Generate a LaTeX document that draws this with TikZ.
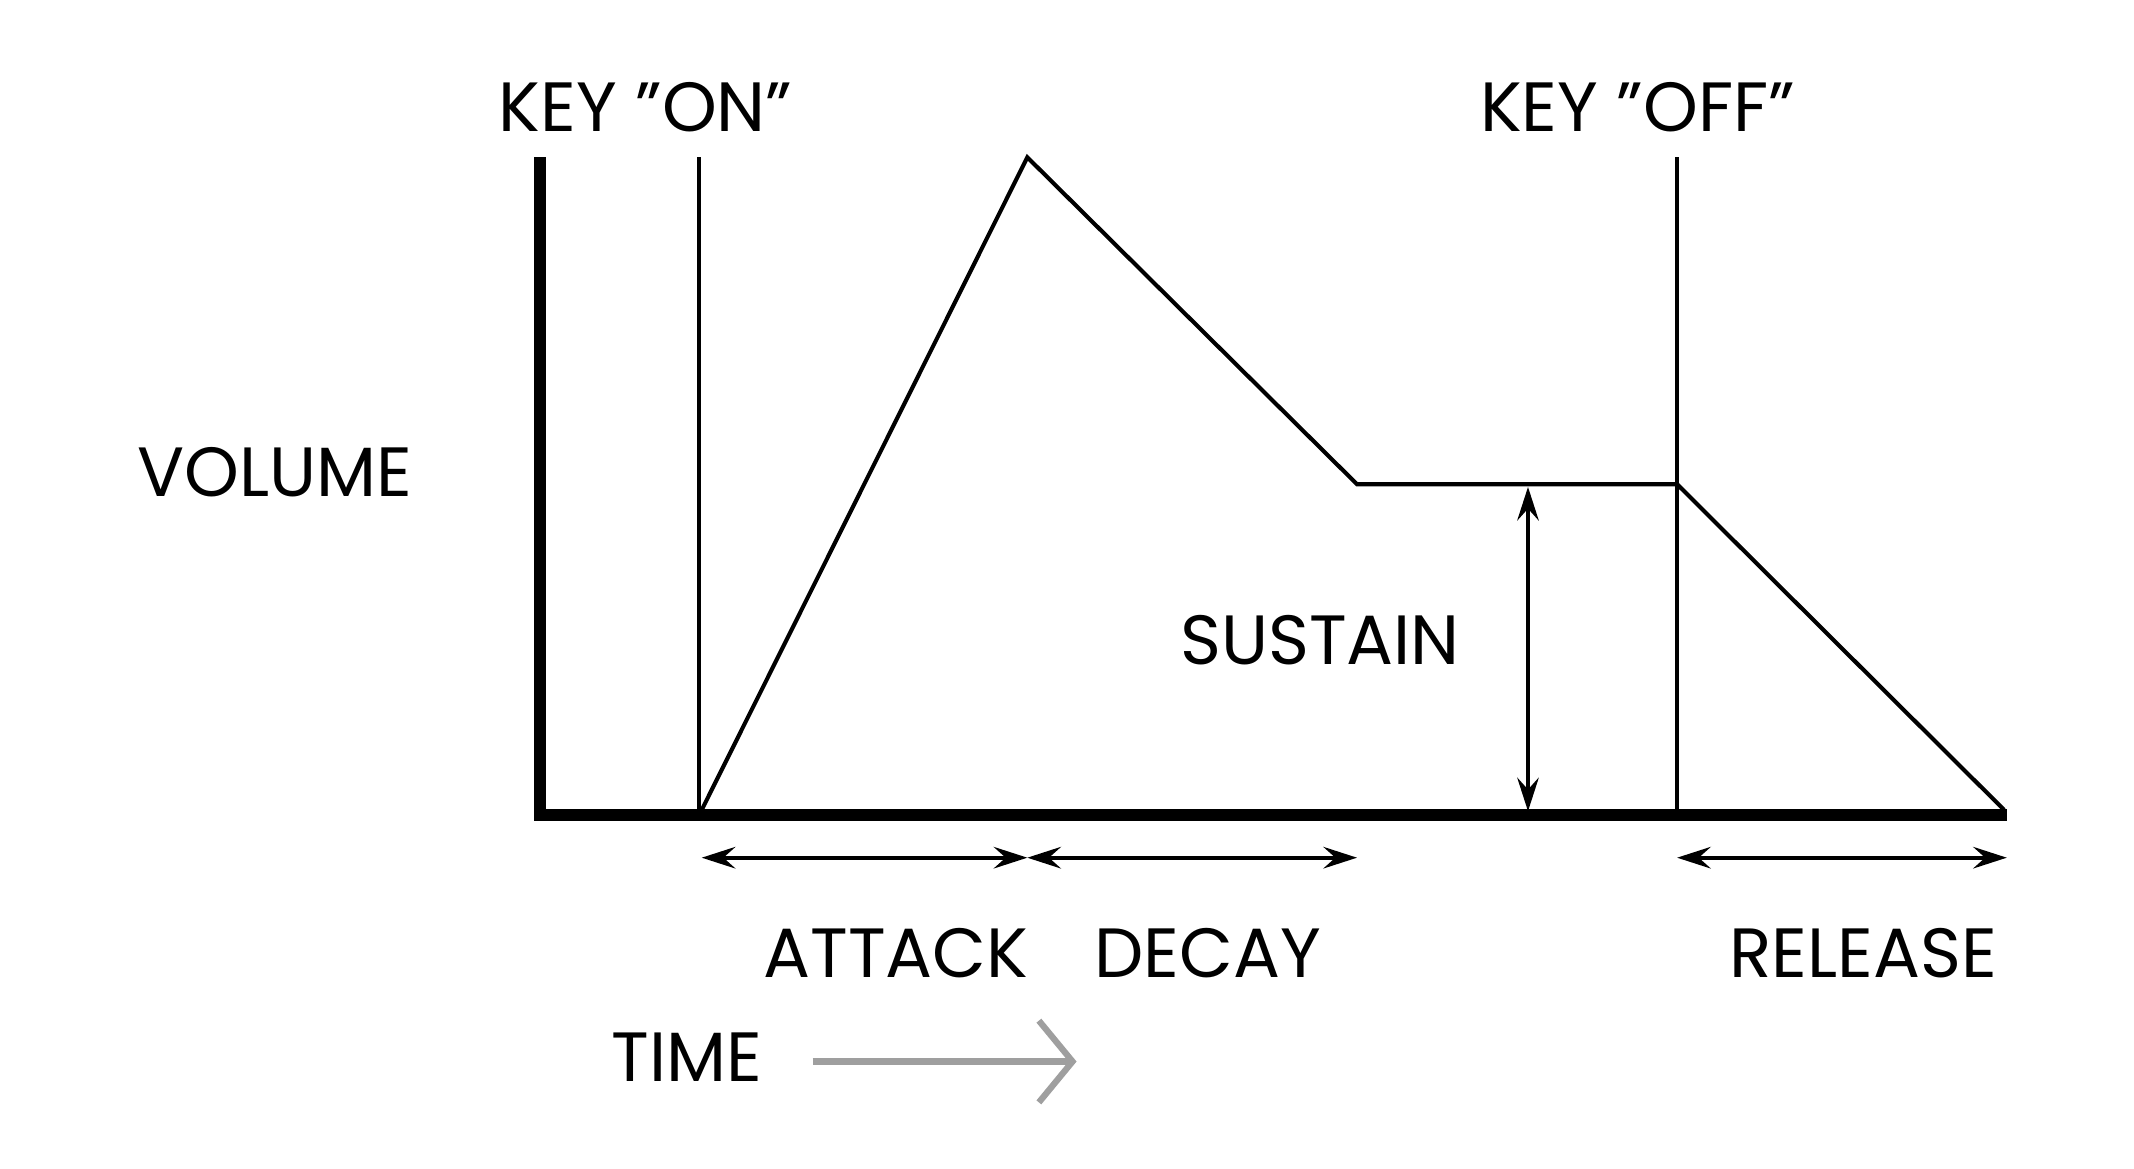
\documentclass[tikz,border=0pt]{standalone}
\usepackage{fontspec}
\setmainfont{Poppins}
\usetikzlibrary{arrows.meta}
\begin{document}
\begin{tikzpicture}[x=0.02cm,y=-0.02cm,
  thin line/.style={line width=1.7pt},
  axis/.style={line width=5pt},
  dim/.style={line width=1.5pt,{Stealth[length=14pt,width=9pt,inset=5pt]}-{Stealth[length=14pt,width=9pt,inset=5pt]}},
  lab/.style={font=\fontsize{29}{32}\selectfont}]
\useasboundingbox (0,0) rectangle (1560,854);
\coordinate (top) at (395,115);
\coordinate (org) at (395,596);
\coordinate (xend) at (1467,596);
\draw[axis] (top) -- (org) -- (xend);
\coordinate (on1) at (511,115); \coordinate (on0) at (511,596);
\coordinate (off1) at (1226,115); \coordinate (off0) at (1226,596);
\draw[thin line] (on1) -- (on0);
\draw[thin line] (off1) -- (off0);
\coordinate (a) at (513,592); \coordinate (p) at (751,115);
\coordinate (d) at (992,354); \coordinate (s) at (1226,354); \coordinate (r) at (1465,592);
\draw[thin line,line join=miter] (a) -- (p) -- (d) -- (s) -- (r);
\coordinate (su1) at (1117,356); \coordinate (su0) at (1117,593);
\draw[dim] (su1) -- (su0);
\coordinate (x1) at (513,627); \coordinate (x2) at (751,627);
\coordinate (x3) at (992,627); \coordinate (x4) at (1226,627); \coordinate (x5) at (1467,627);
\draw[dim] (x1) -- (x2);
\draw[dim] (x2) -- (x3);
\draw[dim] (x4) -- (x5);
\node[lab] (kon) at (472,78) {KEY "ON"};
\node[lab] (koff) at (1197,78) {KEY "OFF"};
\node[lab] (vol) at (201,345) {VOLUME};
\node[lab] (sus) at (965,468) {SUSTAIN};
\node[lab] (att) at (655,697) {ATTACK};
\node[lab] (dec) at (883,697) {DECAY};
\node[lab] (rel) at (1362,697) {RELEASE};
\node[lab] (time) at (502,773) {TIME};
\coordinate (t1) at (594,776); \coordinate (t2) at (787,776);
\draw[line width=2.6pt,color=gray!75,-{Straight Barb[length=14pt,width=34pt,line width=2.6pt]}] (t1) -- (t2);
\end{tikzpicture}
\end{document}
